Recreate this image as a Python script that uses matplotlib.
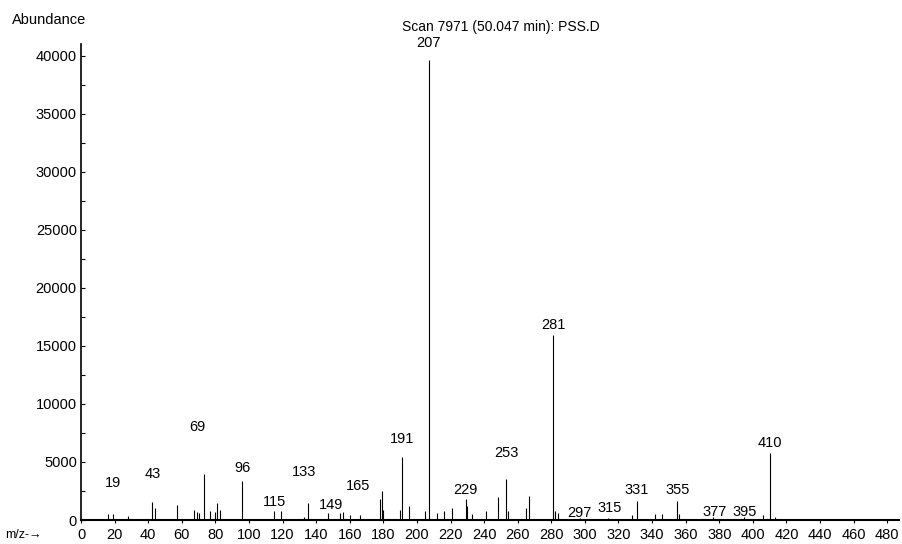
import matplotlib
matplotlib.use("Agg")
import matplotlib.pyplot as plt
from matplotlib.ticker import MultipleLocator

plt.rcParams['font.family'] = ['Liberation Sans', 'DejaVu Sans']

# m/z and abundance of the lines
mz = [16, 19, 28, 42, 44, 57, 67, 69, 70, 73, 77, 80, 81, 83, 96,
      115, 119, 133, 135, 147, 154, 156, 160, 166, 178, 179, 180,
      190, 191, 195, 205, 207, 212, 216, 221, 229, 230, 233, 241,
      248, 253, 254, 265, 267, 281, 282, 284, 297, 314, 328, 331,
      342, 346, 355, 356, 376, 395, 406, 410, 413]
abundance = [500, 500, 350, 1550, 1000, 1300, 900, 700, 600, 4000, 800, 700, 1500, 900, 3400,
             770, 770, 300, 1460, 600, 600, 700, 400, 400, 1800, 2500, 900,
             900, 5400, 1200, 800, 39600, 600, 800, 1000, 1800, 1200, 500, 800,
             2000, 3500, 800, 1000, 2100, 15900, 800, 600, 200, 200, 400, 1600,
             500, 500, 1600, 500, 250, 300, 400, 5800, 300]

# peak labels and the abundance at which each label sits
label_mz = [19, 43, 69, 96, 115, 133, 149, 165, 191, 207,
            229, 253, 281, 297, 315, 331, 355, 377, 395, 410]
label_y = [3200, 4000, 8000, 4500, 1550, 4100, 1300, 2900, 7000, 41100,
           2600, 5800, 16800, 600, 1000, 2600, 2600, 700, 700, 6600]

fig = plt.figure(figsize=(9.03, 5.44), dpi=100)
ax = fig.add_axes([81 / 903, 24 / 544, 818 / 903, 476 / 544])

ax.vlines(mz, 0, abundance, colors='black', linewidth=0.8)
for m, y in zip(label_mz, label_y):
    ax.text(m, y, str(m), ha='center', va='center', fontsize=10.5, clip_on=False)

ax.set_xlim(0, 487)
ax.set_ylim(0, 41000)
ax.xaxis.set_major_locator(MultipleLocator(20))
ax.yaxis.set_major_locator(MultipleLocator(5000))
ax.yaxis.set_minor_locator(MultipleLocator(2500))
ax.tick_params(axis='x', direction='out', length=2, width=0.8, pad=3.5, labelsize=10.5)
ax.tick_params(axis='y', which='both', direction='in', length=3, width=0.8, pad=3, labelsize=10.5)

for side in ['top', 'right']:
    ax.spines[side].set_visible(False)
ax.spines['left'].set_linewidth(1.2)
ax.spines['bottom'].set_linewidth(1.5)

fig.text(12 / 903, 1 - 20 / 544, 'Abundance', ha='left', va='center', fontsize=10.5)
fig.text(501 / 903, 1 - 27 / 544, 'Scan 7971 (50.047 min): PSS.D', ha='center', va='center', fontsize=10)
fig.text(5 / 903, 1 - 535 / 544, 'm/z-\u2192', ha='left', va='center', fontsize=9)

fig.savefig('out.png', dpi=100)
